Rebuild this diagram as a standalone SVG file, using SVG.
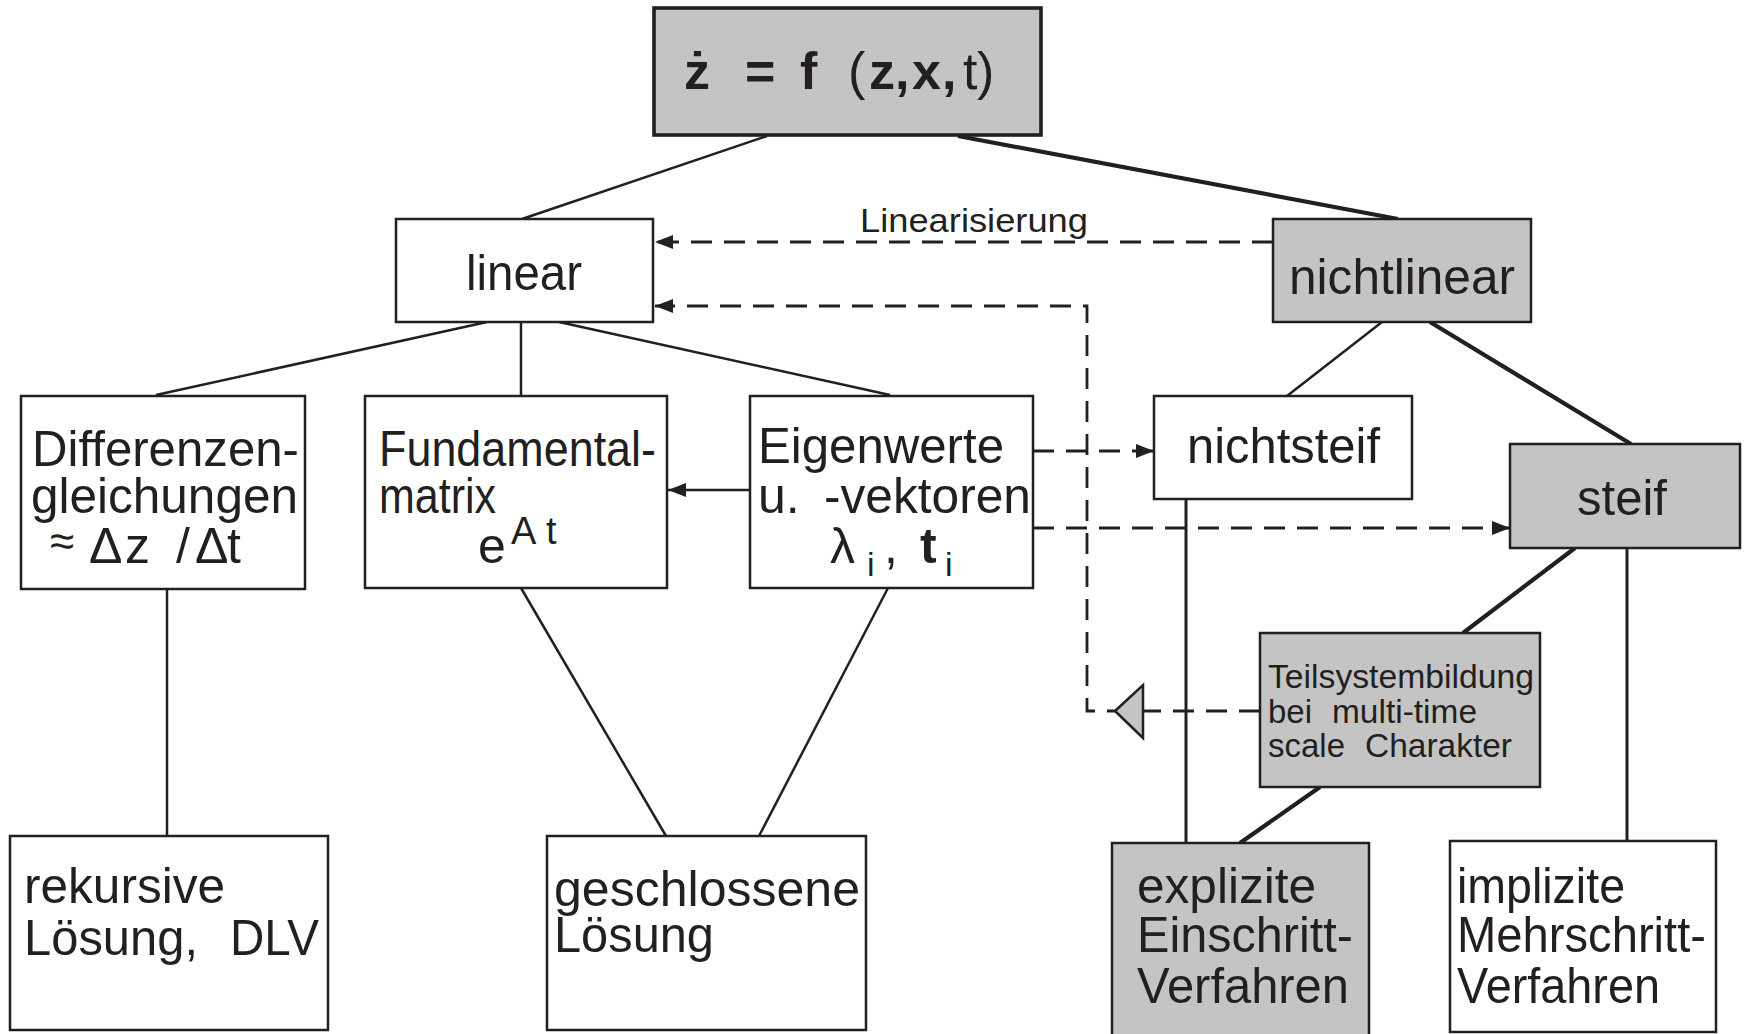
<svg xmlns="http://www.w3.org/2000/svg" width="1751" height="1034" viewBox="0 0 1751 1034">
  <defs>
    <marker id="head" markerUnits="userSpaceOnUse" markerWidth="20" markerHeight="16" refX="18" refY="7" orient="auto">
      <path d="M0,0 L18,7 L0,14 Z" fill="#231f20"/>
    </marker>
    <style>
      .box { fill: #ffffff; stroke: #231f20; stroke-width: 2.5; }
      .grey { fill: #c4c4c4; stroke: #231f20; stroke-width: 2.5; }
      .t { font-family: "Liberation Sans", Arial, sans-serif; font-size: 50px; fill: #231f20; }
      .s { font-family: "Liberation Sans", Arial, sans-serif; font-size: 33px; fill: #231f20; }
      .thin { stroke: #231f20; stroke-width: 2.5; fill: none; }
      .mid { stroke: #231f20; stroke-width: 3; fill: none; }
      .thick { stroke: #231f20; stroke-width: 4.2; fill: none; }
      .dash { stroke: #231f20; stroke-width: 2.8; fill: none; stroke-dasharray: 21 12; }
    </style>
  </defs>
  <rect width="1751" height="1034" fill="#ffffff"/>

  <!-- connectors -->
  <g id="connectors">
    <line class="thin" x1="767" y1="136" x2="522" y2="219"/>
    <line class="thick" x1="958" y1="136" x2="1398" y2="219"/>
    <line class="thin" x1="487" y1="322" x2="156" y2="395"/>
    <line class="thin" x1="521" y1="322" x2="521" y2="395"/>
    <line class="thin" x1="559" y1="322" x2="890" y2="395"/>
    <line class="thin" x1="1382" y1="322" x2="1287" y2="396"/>
    <line class="thick" x1="1430" y1="322" x2="1631" y2="444"/>
    <line class="thin" x1="167" y1="589" x2="167" y2="836"/>
    <line class="thin" x1="521" y1="588" x2="666" y2="836"/>
    <line class="thin" x1="888" y1="588" x2="759" y2="836"/>
    <line class="mid" x1="1186" y1="499" x2="1186" y2="843"/>
    <line class="mid" x1="1627" y1="548" x2="1627" y2="840"/>
    <line class="thick" x1="1575" y1="548" x2="1463" y2="633"/>
    <line class="thick" x1="1320" y1="787" x2="1240" y2="843"/>
    <line class="thin" x1="750" y1="490" x2="668" y2="490" marker-end="url(#head)"/>
    <line class="dash" x1="1273" y1="242" x2="655" y2="242" marker-end="url(#head)"/>
    <polyline class="dash" points="1260,711 1087,711 1087,306 655,306" marker-end="url(#head)"/>
    <line class="dash" x1="1033" y1="451" x2="1154" y2="451" marker-end="url(#head)"/>
    <line class="dash" x1="1033" y1="528" x2="1510" y2="528" marker-end="url(#head)"/>
    <polygon points="1115,711 1143,685 1143,738" fill="#c4c4c4" stroke="#231f20" stroke-width="2.5" stroke-linejoin="miter"/>
    <text class="s" x="860" y="232" textLength="228" lengthAdjust="spacingAndGlyphs">Linearisierung</text>
  </g>

  <!-- nodes -->
  <g id="ode">
    <rect x="654" y="8" width="387" height="127" fill="#c4c4c4" stroke="#231f20" stroke-width="3.6"/>
    <text font-family="'Liberation Sans', Arial, sans-serif" font-size="52" fill="#231f20" y="89">
      <tspan x="684" font-weight="bold">ż</tspan>
      <tspan x="745" font-weight="bold">=</tspan>
      <tspan x="800" font-weight="bold">f</tspan>
      <tspan x="848">(</tspan>
      <tspan x="869" font-weight="bold">z</tspan>
      <tspan x="895" font-weight="bold">,</tspan>
      <tspan x="912" font-weight="bold">x</tspan>
      <tspan x="942" font-weight="bold">,</tspan>
      <tspan x="963">t</tspan>
      <tspan x="977">)</tspan>
    </text>
  </g>

  <g id="linear">
    <rect class="box" x="396" y="219" width="257" height="103"/>
    <text class="t" x="466" y="290" textLength="116" lengthAdjust="spacingAndGlyphs">linear</text>
  </g>

  <g id="nichtlinear">
    <rect class="grey" x="1273" y="219" width="258" height="103"/>
    <text class="t" x="1289" y="294" textLength="226" lengthAdjust="spacingAndGlyphs">nichtlinear</text>
  </g>

  <g id="differenzen">
    <rect class="box" x="21" y="396" width="284" height="193"/>
    <text class="t" x="32" y="466" textLength="267" lengthAdjust="spacingAndGlyphs">Differenzen-</text>
    <text class="t" x="31" y="513" textLength="267" lengthAdjust="spacingAndGlyphs">gleichungen</text>
    <text class="t" y="563">
      <tspan x="50" y="556" font-size="44">≈</tspan>
      <tspan x="89" y="563">Δ</tspan>
      <tspan x="125">z</tspan>
      <tspan x="176">/</tspan>
      <tspan x="195">Δ</tspan>
      <tspan x="227">t</tspan>
    </text>
  </g>

  <g id="fundamentalmatrix">
    <rect class="box" x="365" y="396" width="302" height="192"/>
    <text class="t" x="379" y="466" textLength="277" lengthAdjust="spacingAndGlyphs">Fundamental-</text>
    <text class="t" x="379" y="513" textLength="117" lengthAdjust="spacingAndGlyphs">matrix</text>
    <text class="t" x="478" y="563">e</text>
    <text font-family="'Liberation Sans', Arial, sans-serif" font-size="38" fill="#231f20" y="544">
      <tspan x="511">A</tspan>
      <tspan x="546">t</tspan>
    </text>
  </g>

  <g id="eigenwerte">
    <rect class="box" x="750" y="396" width="283" height="192"/>
    <text class="t" x="758" y="463" textLength="246" lengthAdjust="spacingAndGlyphs">Eigenwerte</text>
    <text class="t" x="758" y="513">u.</text>
    <text class="t" x="824" y="513" textLength="207" lengthAdjust="spacingAndGlyphs">-vektoren</text>
    <text class="t" y="563">
      <tspan x="830">λ</tspan>
      <tspan x="867" y="576" font-size="34">i</tspan>
      <tspan x="884" y="563">,</tspan>
      <tspan x="920" font-weight="bold">t</tspan>
      <tspan x="945" y="576" font-size="34">i</tspan>
    </text>
  </g>

  <g id="nichtsteif">
    <rect class="box" x="1154" y="396" width="258" height="103"/>
    <text class="t" x="1187" y="463" textLength="193" lengthAdjust="spacingAndGlyphs">nichtsteif</text>
  </g>

  <g id="steif">
    <rect class="grey" x="1510" y="444" width="230" height="104"/>
    <text class="t" x="1577" y="515" textLength="90" lengthAdjust="spacingAndGlyphs">steif</text>
  </g>

  <g id="teilsystembildung">
    <rect class="grey" x="1260" y="633" width="280" height="154"/>
    <text class="s" x="1268" y="688" textLength="266" lengthAdjust="spacingAndGlyphs">Teilsystembildung</text>
    <text class="s" x="1268" y="723">bei</text>
    <text class="s" x="1332" y="723" textLength="145" lengthAdjust="spacingAndGlyphs">multi-time</text>
    <text class="s" x="1268" y="757" textLength="77" lengthAdjust="spacingAndGlyphs">scale</text>
    <text class="s" x="1365" y="757" textLength="147" lengthAdjust="spacingAndGlyphs">Charakter</text>
  </g>

  <g id="rekursive">
    <rect class="box" x="10" y="836" width="318" height="194"/>
    <text class="t" x="24" y="903" textLength="201" lengthAdjust="spacingAndGlyphs">rekursive</text>
    <text class="t" x="24" y="955" textLength="174" lengthAdjust="spacingAndGlyphs">Lösung,</text>
    <text class="t" x="230" y="955" textLength="89" lengthAdjust="spacingAndGlyphs">DLV</text>
  </g>

  <g id="geschlossene">
    <rect class="box" x="547" y="836" width="319" height="194"/>
    <text class="t" x="554" y="906" textLength="306" lengthAdjust="spacingAndGlyphs">geschlossene</text>
    <text class="t" x="554" y="952" textLength="160" lengthAdjust="spacingAndGlyphs">Lösung</text>
  </g>

  <g id="explizite">
    <rect class="grey" x="1112" y="843" width="257" height="200"/>
    <text class="t" x="1137" y="903" textLength="179" lengthAdjust="spacingAndGlyphs">explizite</text>
    <text class="t" x="1137" y="952" textLength="216" lengthAdjust="spacingAndGlyphs">Einschritt-</text>
    <text class="t" x="1137" y="1003" textLength="212" lengthAdjust="spacingAndGlyphs">Verfahren</text>
  </g>

  <g id="implizite">
    <rect class="box" x="1450" y="841" width="266" height="191"/>
    <text class="t" x="1457" y="903" textLength="168" lengthAdjust="spacingAndGlyphs">implizite</text>
    <text class="t" x="1457" y="952" textLength="249" lengthAdjust="spacingAndGlyphs">Mehrschritt-</text>
    <text class="t" x="1457" y="1003" textLength="203" lengthAdjust="spacingAndGlyphs">Verfahren</text>
  </g>
</svg>
